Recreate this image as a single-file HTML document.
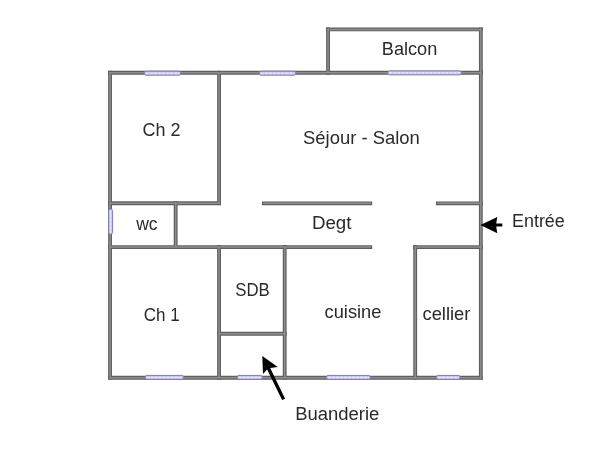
<!DOCTYPE html>
<html>
<head>
<meta charset="utf-8">
<style>
html,body{margin:0;padding:0;background:#fff;}
body{width:600px;height:450px;overflow:hidden;}
svg{display:block;}
text{font-family:"Liberation Sans",sans-serif;font-size:19px;fill:#2a2a2a;}
.wd{fill:none;stroke:#5f5f5f;stroke-width:3.85;stroke-linecap:butt;}
.wl{fill:none;stroke:#8e8e8e;stroke-width:1.5;stroke-linecap:butt;}
.win rect{fill:#c8c8e9;stroke:#7e7eb6;stroke-width:1;}
.win line{stroke:#f2f2ff;stroke-width:0.9;stroke-dasharray:3.2 0.8;}
</style>
</head>
<body>
<svg width="600" height="450" viewBox="0 0 600 450">
<defs>
<filter id="soft" x="0" y="0" width="600" height="450" filterUnits="userSpaceOnUse"><feGaussianBlur stdDeviation="0.55"/></filter>

</defs>
<rect width="600" height="450" fill="#ffffff"/>
<g filter="url(#soft)">
<g class="wd">
<line x1="108.1" y1="72.75" x2="482.8" y2="72.75"/>
<line x1="108.1" y1="377.7" x2="482.8" y2="377.7"/>
<line x1="326.1" y1="29.4" x2="482.8" y2="29.4"/>
<line x1="108.1" y1="203.2" x2="221" y2="203.2"/>
<line x1="262" y1="203.3" x2="372.2" y2="203.3"/>
<line x1="436" y1="203.3" x2="482.8" y2="203.3"/>
<line x1="108.1" y1="247.05" x2="372.2" y2="247.05"/>
<line x1="413.1" y1="247.05" x2="482.8" y2="247.05"/>
<line x1="217.1" y1="333.7" x2="286.6" y2="333.7"/>
<line x1="110.05" y1="70.8" x2="110.05" y2="379.6"/>
<line x1="480.85" y1="27.45" x2="480.85" y2="379.6"/>
<line x1="328.05" y1="27.45" x2="328.05" y2="74.7"/>
<line x1="219.05" y1="70.8" x2="219.05" y2="205.1"/>
<line x1="175.65" y1="201.3" x2="175.65" y2="249"/>
<line x1="219.05" y1="245.1" x2="219.05" y2="379.6"/>
<line x1="284.7" y1="245.1" x2="284.7" y2="379.6"/>
<line x1="415.2" y1="245.1" x2="415.2" y2="379.6"/>
</g>
<g class="wl">
<line x1="109.25" y1="72.75" x2="481.65" y2="72.75"/>
<line x1="109.25" y1="377.7" x2="481.65" y2="377.7"/>
<line x1="327.25" y1="29.4" x2="481.65" y2="29.4"/>
<line x1="109.25" y1="203.2" x2="219.85" y2="203.2"/>
<line x1="263.15" y1="203.3" x2="371.05" y2="203.3"/>
<line x1="437.15" y1="203.3" x2="481.65" y2="203.3"/>
<line x1="109.25" y1="247.05" x2="371.05" y2="247.05"/>
<line x1="414.25" y1="247.05" x2="481.65" y2="247.05"/>
<line x1="218.25" y1="333.7" x2="285.45" y2="333.7"/>
<line x1="110.05" y1="71.95" x2="110.05" y2="378.45"/>
<line x1="480.85" y1="28.60" x2="480.85" y2="378.45"/>
<line x1="328.05" y1="28.60" x2="328.05" y2="73.55"/>
<line x1="219.05" y1="71.95" x2="219.05" y2="203.95"/>
<line x1="175.65" y1="202.45" x2="175.65" y2="247.85"/>
<line x1="219.05" y1="246.25" x2="219.05" y2="378.45"/>
<line x1="284.7" y1="246.25" x2="284.7" y2="378.45"/>
<line x1="415.2" y1="246.25" x2="415.2" y2="378.45"/>
</g>
<g class="win">
<rect x="144.20" y="71.20" width="36.60" height="4" rx="1.8"/>
<line x1="145.70" y1="73.20" x2="179.30" y2="73.20"/>
<rect x="259.20" y="71.20" width="36.60" height="4" rx="1.8"/>
<line x1="260.70" y1="73.20" x2="294.30" y2="73.20"/>
<rect x="387.70" y="70.90" width="73.80" height="4" rx="1.8"/>
<line x1="389.20" y1="72.90" x2="460.00" y2="72.90"/>
<rect x="108.60" y="208.90" width="4" height="25.40" rx="1.8"/>
<line x1="110.60" y1="210.40" x2="110.60" y2="232.80"/>
<rect x="145.20" y="375.40" width="38.40" height="4" rx="1.8"/>
<line x1="146.70" y1="377.40" x2="182.10" y2="377.40"/>
<rect x="237.20" y="375.40" width="25.10" height="4" rx="1.8"/>
<line x1="238.70" y1="377.40" x2="260.80" y2="377.40"/>
<rect x="326.40" y="375.40" width="44.00" height="4" rx="1.8"/>
<line x1="327.90" y1="377.40" x2="368.90" y2="377.40"/>
<rect x="436.40" y="375.40" width="23.60" height="4" rx="1.8"/>
<line x1="437.90" y1="377.40" x2="458.50" y2="377.40"/>
</g>
<!-- arrows -->
<g fill="#000" stroke="none">
<path d="M480.4 225 L497.3 217 L496.2 223.4 L502.3 223.4 L502.3 226.6 L496.2 226.6 L497.3 233.2 Z"/>
<path d="M262.3 356 L277.8 367 L270.2 368.1 L285.1 398.7 L282.1 400.1 L267.1 369.6 L263 374.1 Z"/>
</g>
<g>
<text transform="translate(142.50 136.20) scale(0.9461 1)">Ch 2</text>
<text transform="translate(381.79 54.70) scale(0.9563 1)">Balcon</text>
<text transform="translate(302.98 143.80) scale(0.9716 1)">Séjour - Salon</text>
<text transform="translate(136.20 229.80) scale(0.9213 1)">wc</text>
<text transform="translate(311.89 228.70) scale(0.9865 1)">Degt</text>
<text transform="translate(235.22 296.10) scale(0.8840 1)">SDB</text>
<text transform="translate(143.71 320.70) scale(0.8950 1)">Ch 1</text>
<text transform="translate(324.59 318.00) scale(0.9596 1)">cuisine</text>
<text transform="translate(422.44 319.90) scale(0.9676 1)">cellier</text>
<text transform="translate(295.16 420.00) scale(0.9726 1)">Buanderie</text>
<text transform="translate(511.96 226.60) scale(0.9444 1)">Entrée</text>
</g>
</g>
</svg>
</body>
</html>
